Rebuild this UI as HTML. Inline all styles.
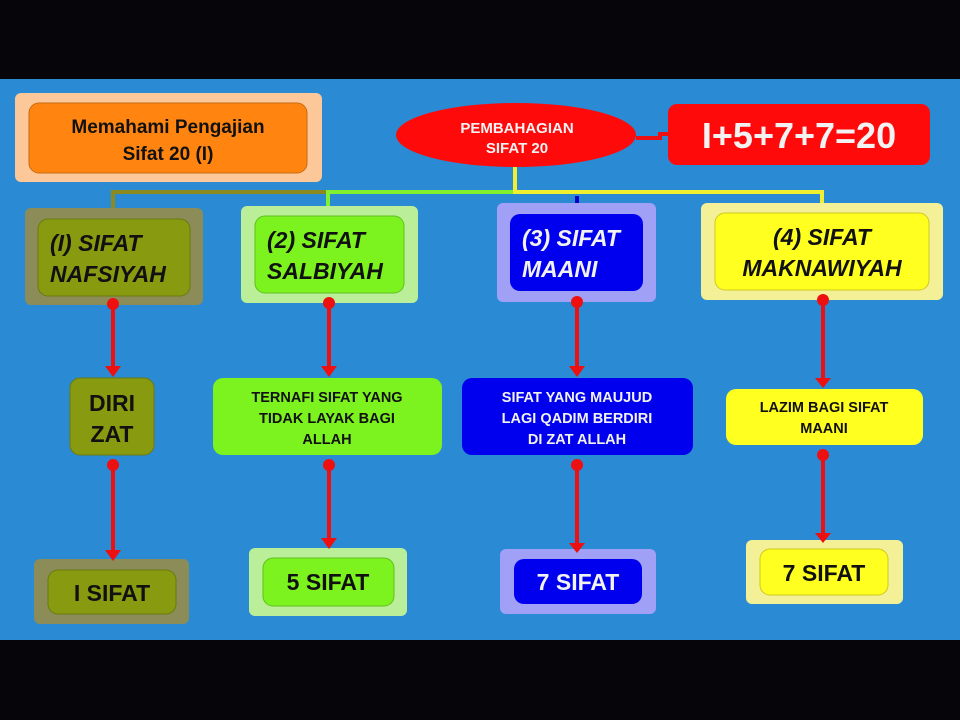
<!DOCTYPE html>
<html><head><meta charset="utf-8"><style>
html,body{margin:0;padding:0;background:#000;}
svg{display:block;}
text{font-family:"Liberation Sans",sans-serif;font-weight:bold;}
</style></head><body>
<svg width="960" height="720" viewBox="0 0 960 720">
<rect x="0" y="0" width="960" height="720" fill="#05050a"/>
<rect x="0" y="79" width="960" height="561" fill="#2a8ad3"/>

<rect x="15" y="93" width="307" height="89" rx="6" fill="#fcc89a"/>
<rect x="29" y="103" width="278" height="70" rx="10" fill="#ff8510" stroke="#c86a10"/>
<text x="168" y="133" font-size="19" text-anchor="middle" fill="#111">Memahami Pengajian</text>
<text x="168" y="160" font-size="19" text-anchor="middle" fill="#111">Sifat 20 (I)</text>

<polyline points="113,209 113,192 328,192" fill="none" stroke="#8a8a20" stroke-width="4"/>
<polyline points="328,208 328,192 515,192" fill="none" stroke="#80f030" stroke-width="4"/>
<polyline points="515,166 515,192 822,192 822,205" fill="none" stroke="#f0f030" stroke-width="4"/>
<line x1="577" y1="196" x2="577" y2="215" stroke="#0000cc" stroke-width="4"/>
<polyline points="636,138 660,138 660,134 670,134" fill="none" stroke="#ee1010" stroke-width="4"/>

<ellipse cx="516" cy="135" rx="120" ry="32" fill="#ff0a0a"/>
<text x="517" y="133" font-size="15" text-anchor="middle" fill="#f2f2f2">PEMBAHAGIAN</text>
<text x="517" y="153" font-size="15" text-anchor="middle" fill="#f2f2f2">SIFAT 20</text>

<rect x="668" y="104" width="262" height="61" rx="9" fill="#ff0a0a"/>
<text x="799" y="148" font-size="36" text-anchor="middle" fill="#f2f2f2">I+5+7+7=20</text>

<rect x="25" y="208" width="178" height="97" rx="6" fill="#8c8c58"/>
<rect x="38" y="219" width="152" height="77" rx="10" fill="#879a10" stroke="#6a7a10"/>
<text x="50" y="251" font-size="23" font-style="italic" fill="#111">(I) SIFAT</text>
<text x="50" y="282" font-size="23" font-style="italic" fill="#111">NAFSIYAH</text>

<rect x="241" y="206" width="177" height="97" rx="6" fill="#bbee98"/>
<rect x="255" y="216" width="149" height="77" rx="10" fill="#7cf21e" stroke="#60c020"/>
<text x="267" y="248" font-size="23" font-style="italic" fill="#111">(2) SIFAT</text>
<text x="267" y="279" font-size="23" font-style="italic" fill="#111">SALBIYAH</text>

<rect x="497" y="203" width="159" height="99" rx="6" fill="#a0a0f6"/>
<rect x="510" y="214" width="133" height="77" rx="10" fill="#0000ee"/>
<text x="522" y="246" font-size="23" font-style="italic" fill="#f2f2f2">(3) SIFAT</text>
<text x="522" y="277" font-size="23" font-style="italic" fill="#f2f2f2">MAANI</text>

<rect x="701" y="203" width="242" height="97" rx="6" fill="#f4f098"/>
<rect x="715" y="213" width="214" height="77" rx="10" fill="#ffff20" stroke="#d0c820"/>
<text x="822" y="245" font-size="23" font-style="italic" text-anchor="middle" fill="#111">(4) SIFAT</text>
<text x="822" y="276" font-size="23" font-style="italic" text-anchor="middle" fill="#111">MAKNAWIYAH</text>

<rect x="70" y="378" width="84" height="77" rx="10" fill="#879a10" stroke="#6a7a10"/>
<text x="112" y="411" font-size="23" text-anchor="middle" fill="#111">DIRI</text>
<text x="112" y="442" font-size="23" text-anchor="middle" fill="#111">ZAT</text>

<rect x="213" y="378" width="229" height="77" rx="10" fill="#7cf21e"/>
<text x="327" y="402" font-size="14.5" text-anchor="middle" fill="#111">TERNAFI SIFAT YANG</text>
<text x="327" y="423" font-size="14.5" text-anchor="middle" fill="#111">TIDAK LAYAK BAGI</text>
<text x="327" y="444" font-size="14.5" text-anchor="middle" fill="#111">ALLAH</text>

<rect x="462" y="378" width="231" height="77" rx="10" fill="#0000ee"/>
<text x="577" y="402" font-size="14.5" text-anchor="middle" fill="#f2f2f2">SIFAT YANG MAUJUD</text>
<text x="577" y="423" font-size="14.5" text-anchor="middle" fill="#f2f2f2">LAGI QADIM BERDIRI</text>
<text x="577" y="444" font-size="14.5" text-anchor="middle" fill="#f2f2f2">DI ZAT ALLAH</text>

<rect x="726" y="389" width="197" height="56" rx="10" fill="#ffff20"/>
<text x="824" y="412" font-size="14.5" text-anchor="middle" fill="#111">LAZIM BAGI SIFAT</text>
<text x="824" y="433" font-size="14.5" text-anchor="middle" fill="#111">MAANI</text>

<rect x="34" y="559" width="155" height="65" rx="6" fill="#8c8c58"/>
<rect x="48" y="570" width="128" height="44" rx="10" fill="#879a10" stroke="#6a7a10"/>
<text x="112" y="601" font-size="23" text-anchor="middle" fill="#111">I SIFAT</text>

<rect x="249" y="548" width="158" height="68" rx="6" fill="#bbee98"/>
<rect x="263" y="558" width="131" height="48" rx="10" fill="#7cf21e" stroke="#60c020"/>
<text x="328" y="590" font-size="23" text-anchor="middle" fill="#111">5 SIFAT</text>

<rect x="500" y="549" width="156" height="65" rx="6" fill="#a0a0f6"/>
<rect x="514" y="559" width="128" height="45" rx="10" fill="#0000ee"/>
<text x="578" y="590" font-size="23" text-anchor="middle" fill="#f2f2f2">7 SIFAT</text>

<rect x="746" y="540" width="157" height="64" rx="6" fill="#f4f098"/>
<rect x="760" y="549" width="128" height="46" rx="10" fill="#ffff20" stroke="#d0c820"/>
<text x="824" y="581" font-size="23" text-anchor="middle" fill="#111">7 SIFAT</text>

<g stroke="#ee1010" stroke-width="4" fill="#ee1010">
<line x1="113" y1="304" x2="113" y2="368"/><circle cx="113" cy="304" r="6" stroke="none"/>
<line x1="329" y1="303" x2="329" y2="368"/><circle cx="329" cy="303" r="6" stroke="none"/>
<line x1="577" y1="302" x2="577" y2="368"/><circle cx="577" cy="302" r="6" stroke="none"/>
<line x1="823" y1="300" x2="823" y2="380"/><circle cx="823" cy="300" r="6" stroke="none"/>
<line x1="113" y1="465" x2="113" y2="552"/><circle cx="113" cy="465" r="6" stroke="none"/>
<line x1="329" y1="465" x2="329" y2="540"/><circle cx="329" cy="465" r="6" stroke="none"/>
<line x1="577" y1="465" x2="577" y2="545"/><circle cx="577" cy="465" r="6" stroke="none"/>
<line x1="823" y1="455" x2="823" y2="535"/><circle cx="823" cy="455" r="6" stroke="none"/>
</g>
<g fill="#ee1010">
<polygon points="105,366 121,366 113,377"/>
<polygon points="321,366 337,366 329,377"/>
<polygon points="569,366 585,366 577,377"/>
<polygon points="815,378 831,378 823,388"/>
<polygon points="105,550 121,550 113,561"/>
<polygon points="321,538 337,538 329,549"/>
<polygon points="569,543 585,543 577,553"/>
<polygon points="815,533 831,533 823,543"/>
</g>
</svg>
</body></html>
